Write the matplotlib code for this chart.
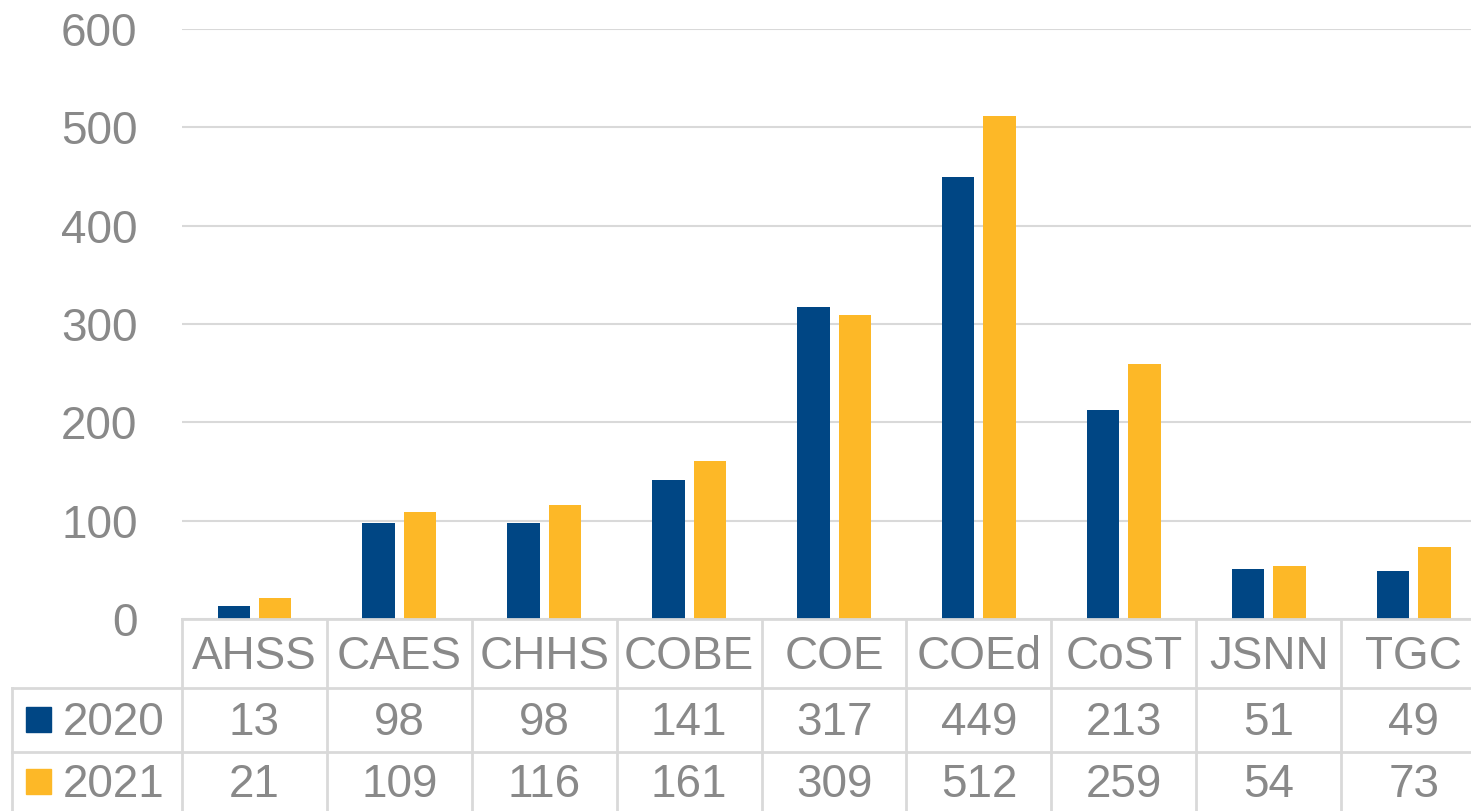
import matplotlib.pyplot as plt
import numpy as np

colleges = ["AHSS", "CAES", "CHHS", "COBE", "COE", "COEd", "CoST", "JSNN", "TGC"]
years = ["2020", "2021"]
vals_2020 = [13, 98, 98, 141, 317, 449, 213, 51, 49]
vals_2021 = [21, 109, 116, 161, 309, 512, 259, 54, 73]

navy = "#004684"
gold = "#FDB827"
grey_txt = "#898989"
grid_c = "#D9D9D9"

plt.rcParams['font.family'] = ['Liberation Sans', 'DejaVu Sans']

W, H = 1471, 811
fig = plt.figure(figsize=(W / 100, H / 100), dpi=100)

# plot area in pixels
left, right, y0, y600 = 182, 182 + 9 * 144.9, 619, 29
ax = fig.add_axes([left / W, 1 - y0 / H, (right - left) / W, (y0 - y600) / H])

x = np.arange(len(colleges))
bw = 0.224
off = 0.143
ax.bar(x - off, vals_2020, bw, color=navy, zorder=3)
ax.bar(x + off, vals_2021, bw, color=gold, zorder=3)

ax.set_xlim(-0.5, len(colleges) - 0.5)
ax.set_ylim(0, 600)
ax.set_yticks(range(0, 601, 100))
ax.tick_params(axis='y', length=0, pad=32, labelsize=33, labelcolor=grey_txt)
ax.set_xticks([])
ax.grid(axis='y', color=grid_c, linewidth=1.5, zorder=0)
for s in ax.spines.values():
    s.set_visible(False)

# overlay in pixel coordinates for the data table
ov = fig.add_axes([0, 0, 1, 1], zorder=5)
ov.set_xlim(0, W)
ov.set_ylim(H, 0)
ov.axis('off')
ov.patch.set_alpha(0)

lw = 2
r1, r2, r3 = 619, 688, 752
ov.plot([left, right], [r1, r1], color=grid_c, lw=lw)
ov.plot([12, right], [r2, r2], color=grid_c, lw=lw)
ov.plot([12, right], [r3, r3], color=grid_c, lw=lw)
ov.plot([12, 12], [r2, H], color=grid_c, lw=lw)
colw = (right - left) / len(colleges)
for i in range(len(colleges) + 1):
    ov.plot([left + i * colw] * 2, [r1, H], color=grid_c, lw=lw)

fs = 33
for i, name in enumerate(colleges):
    cx = left + (i + 0.5) * colw
    ov.text(cx, 669, name, ha='center', va='baseline', fontsize=fs, color=grey_txt)
    ov.text(cx, 735, str(vals_2020[i]), ha='center', va='baseline', fontsize=fs, color=grey_txt)
    ov.text(cx, 797, str(vals_2021[i]), ha='center', va='baseline', fontsize=fs, color=grey_txt)

# row labels with legend keys
for yr, col, base in [(years[0], navy, 735), (years[1], gold, 797)]:
    ov.add_patch(plt.Rectangle((26, base - 28), 25, 25, color=col))
    ov.text(63, base, yr, ha='left', va='baseline', fontsize=fs, color=grey_txt)

fig.savefig("out.png", dpi=100)
